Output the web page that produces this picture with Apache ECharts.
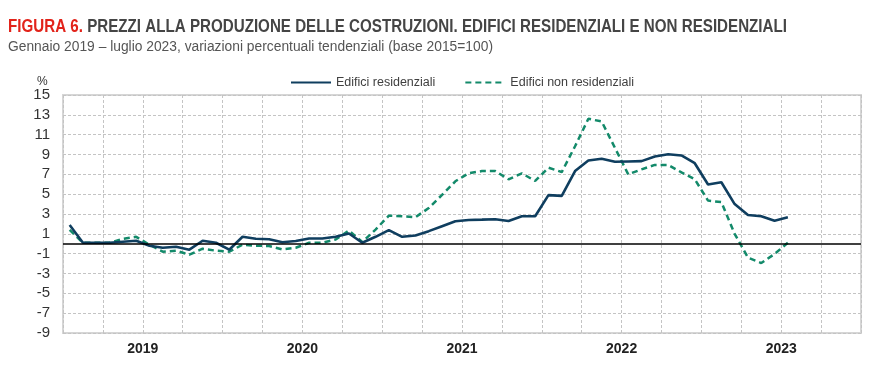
<!DOCTYPE html>
<html>
<head>
<meta charset="utf-8">
<script src="https://cdn.jsdelivr.net/npm/echarts@6/dist/echarts.min.js"></script>
<style>
html,body{margin:0;padding:0;background:#fff;}
#chart{width:885px;height:381px;}
</style>
</head>
<body>
<div id="chart"></div>
<script>
// Categories: Jan 2019 - Dec 2023 (monthly)
const years = ['2019', '2020', '2021', '2022', '2023'];
const months = [];
years.forEach(y => { for (let m = 1; m <= 12; m++) months.push(y + '-' + (m < 10 ? '0' + m : m)); });

// Edifici residenziali (Jan 2019 - Jul 2023)
const residenziali = [1.9, 0.1, 0.1, 0.1, 0.2, 0.3, -0.2, -0.4, -0.3, -0.6, 0.3, 0.1,
  -0.6, 0.7, 0.5, 0.45, 0.15, 0.27, 0.53, 0.53, 0.7, 1.03, 0.1, 0.7,
  1.37, 0.7, 0.83, 1.27, 1.77, 2.27, 2.4, 2.43, 2.47, 2.3, 2.77, 2.77,
  4.9, 4.83, 7.33, 8.4, 8.57, 8.27, 8.3, 8.33, 8.8, 9.03, 8.9, 8.12,
  5.97, 6.2, 4.0, 2.9, 2.77, 2.33, 2.67];

// Edifici non residenziali (Jan 2019 - Jul 2023)
const nonResidenziali = [1.4, 0.1, 0.1, 0.1, 0.5, 0.7, -0.1, -0.8, -0.7, -1.1, -0.5, -0.7,
  -0.8, -0.1, -0.2, -0.23, -0.57, -0.4, 0.1, 0.1, 0.43, 1.33, 0.17, 1.43,
  2.83, 2.77, 2.67, 3.6, 4.93, 6.3, 7.1, 7.33, 7.33, 6.5, 7.1, 6.33,
  7.67, 7.23, 9.83, 12.6, 12.33, 9.67, 7.0, 7.5, 7.95, 7.95, 7.2, 6.5,
  4.35, 4.2, 1.0, -1.4, -1.95, -1.03, 0.1];

const seriesNames = ['Edifici residenziali', 'Edifici non residenziali'];
const titleRed = 'FIGURA 6.';
const titleMain = ' PREZZI ALLA PRODUZIONE DELLE COSTRUZIONI. EDIFICI RESIDENZIALI E NON RESIDENZIALI';
const subtitle = 'Gennaio 2019 \u2013 luglio 2023, variazioni percentuali tendenziali (base 2015=100)';
const yMin = -9, yMax = 15, yStep = 2;

const FONT = '"Liberation Sans", Arial, sans-serif';
const gridLine = { color: '#c4c4c4', width: 1, type: [3, 2] };

// measure text to emulate a condensed typeface via horizontal scaling
const ctx = document.createElement('canvas').getContext('2d');
function textW(font, s) { ctx.font = font; return ctx.measureText(s).width; }
const titleFont = 'bold 18px ' + FONT;
const subFont = '14px ' + FONT;
const titleScale = 779 / textW(titleFont, titleRed + titleMain);
const subScale = 485 / textW(subFont, subtitle);

const chart = echarts.init(document.getElementById('chart'), null, { renderer: 'canvas' });
chart.setOption({
  animation: false,
  backgroundColor: '#ffffff',
  graphic: [{
    type: 'text', x: 8, y: 18, scaleX: titleScale,
    style: {
      text: '{r|' + titleRed + '}{g|' + titleMain + '}',
      rich: {
        r: { font: titleFont, fill: '#e2231a' },
        g: { font: titleFont, fill: '#454545' }
      }
    }
  }, {
    type: 'text', x: 8, y: 40, scaleX: subScale,
    style: { text: subtitle, font: subFont, fill: '#555555' }
  }, {
    type: 'text', left: 37, top: 76,
    style: { text: '%', font: '12px ' + FONT, fill: '#333333' }
  }],
  legend: {
    left: 285, top: 71,
    itemWidth: 40, itemHeight: 10, itemGap: 29,
    itemStyle: { opacity: 0 },
    textStyle: { fontFamily: FONT, fontSize: 12.5, color: '#404040' },
    data: seriesNames
  },
  grid: {
    left: 63, right: 24, top: 95, bottom: 48,
    show: true, borderColor: '#d6d6d6', borderWidth: 2, backgroundColor: 'transparent'
  },
  xAxis: [{
    type: 'category', data: months, boundaryGap: true,
    axisLine: { show: false }, axisTick: { show: false }, axisLabel: { show: false },
    splitLine: { show: true, interval: 2, lineStyle: gridLine }
  }, {
    type: 'category', data: years, boundaryGap: true, position: 'bottom',
    axisLine: { show: false }, axisTick: { show: false },
    axisLabel: { margin: 9, fontFamily: FONT, fontWeight: 'bold', fontSize: 14, color: '#222222' },
    splitLine: { show: false }
  }],
  yAxis: {
    type: 'value', min: yMin, max: yMax, interval: yStep,
    axisLine: { show: false }, axisTick: { show: false },
    axisLabel: { margin: 13, fontFamily: FONT, fontSize: 15, color: '#333333' },
    splitLine: { show: true, lineStyle: gridLine }
  },
  series: [{
    name: seriesNames[0], type: 'line', data: residenziali, xAxisIndex: 0,
    symbol: 'none', smooth: false,
    lineStyle: { color: '#0f3e5f', width: 2.6 }, itemStyle: { color: '#0f3e5f' },
    markLine: {
      silent: true, symbol: 'none', label: { show: false },
      lineStyle: { color: '#000000', width: 1.5, type: 'solid' },
      data: [{ yAxis: 0 }]
    },
    z: 3
  }, {
    name: seriesNames[1], type: 'line', data: nonResidenziali, xAxisIndex: 0,
    symbol: 'none', smooth: false,
    lineStyle: { color: '#138a6a', width: 2.5, type: [6, 4] }, itemStyle: { color: '#138a6a' },
    z: 2
  }]
});
</script>
</body>
</html>
